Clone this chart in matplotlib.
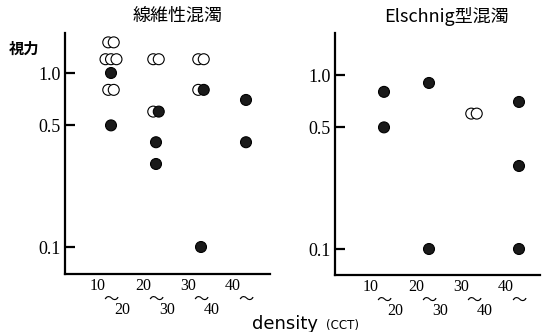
import matplotlib
matplotlib.use("Agg")
import matplotlib.pyplot as plt
import numpy as np

# ---- data ----
categories = ["10", "20", "30", "40"]
categories_end = ["20", "30", "40", ""]
yticks = [1.0, 0.5, 0.1]
ytick_labels = ["1.0", "0.5", "0.1"]

titles = ["線維性混濁", "Elschnig型混濁"]

# left panel: 線維性混濁
left_open_cat = [0, 0, 0, 0, 0, 0, 0, 1, 1, 1, 2, 2, 2]
left_open_val = [1.5, 1.5, 1.2, 1.2, 1.2, 0.8, 0.8, 1.2, 1.2, 0.6, 1.2, 1.2, 0.8]
left_filled_cat = [0, 0, 1, 1, 1, 2, 2, 3, 3]
left_filled_val = [1.0, 0.5, 0.6, 0.4, 0.3, 0.8, 0.1, 0.7, 0.4]

# right panel: Elschnig型混濁
right_open_cat = [2, 2]
right_open_val = [0.6, 0.6]
right_filled_cat = [0, 0, 1, 1, 3, 3, 3]
right_filled_val = [0.8, 0.5, 0.9, 0.1, 0.7, 0.3, 0.1]

W, H = 543, 332
fig = plt.figure(figsize=(W / 100, H / 100), dpi=100)

SERIF = "Liberation Serif"
CJK = ["Noto Sans CJK JP", "DejaVu Sans"]

PX_PER_CAT = 45.0
STEP_PX = 5.5


def make_points(open_cat, open_val, filled_cat, filled_val):
    groups = {}
    for c, v in zip(open_cat, open_val):
        groups.setdefault((c, v), []).append("open")
    for c, v in zip(filled_cat, filled_val):
        groups.setdefault((c, v), []).append("filled")
    xs, ys, fcs = [], [], []
    for (c, v), kinds in groups.items():
        n = len(kinds)
        for i, k in enumerate(kinds):
            off = (i - (n - 1) / 2) * STEP_PX / PX_PER_CAT
            xs.append(c + off)
            ys.append(v)
            fcs.append("white" if k == "open" else "#1a1a1a")
    return xs, ys, fcs


def setup(rect_px, one_px, cat0_px, title, title_x, pts):
    x0, y_top, x1, y_bot = rect_px
    ax = fig.add_axes([x0 / W, 1 - y_bot / H, (x1 - x0) / W, (y_bot - y_top) / H])
    ppd = 174.0
    ax.set_yscale("log")
    ax.set_ylim(10 ** (-(y_bot - one_px) / ppd), 10 ** ((one_px - y_top) / ppd))
    xl0 = -(cat0_px - x0) / PX_PER_CAT
    ax.set_xlim(xl0, xl0 + (x1 - x0) / PX_PER_CAT)
    for s in ["top", "right"]:
        ax.spines[s].set_visible(False)
    for s in ["left", "bottom"]:
        ax.spines[s].set_linewidth(1.6)
    ax.set_yticks(yticks)
    ax.set_yticklabels(ytick_labels, fontfamily=SERIF, fontsize=13)
    ax.yaxis.set_minor_locator(matplotlib.ticker.NullLocator())
    ax.tick_params(axis="y", direction="in", length=7.5, width=1.6, pad=3)
    ax.set_xticks([])
    xs, ys, fcs = pts
    ax.scatter(xs, ys, s=62, facecolors=fcs, edgecolors="black",
               linewidths=0.8, zorder=3, clip_on=False)
    xt = ax.get_xaxis_transform()
    for i, (a, b) in enumerate(zip(categories, categories_end)):
        ax.annotate(a, xy=(i, 0), xycoords=xt, xytext=(-13, -12),
                    textcoords="offset pixels", ha="center", va="center",
                    fontfamily=SERIF, fontsize=11.5)
        ax.annotate("〜", xy=(i, 0), xycoords=xt, xytext=(0, -25),
                    textcoords="offset pixels", ha="center", va="center",
                    fontfamily=CJK, fontsize=11)
        if b:
            ax.annotate(b, xy=(i, 0), xycoords=xt, xytext=(11, -36),
                        textcoords="offset pixels", ha="center", va="center",
                        fontfamily=SERIF, fontsize=11.5)
    fig.text(title_x / W, 1 - 16 / H, title, ha="center", va="center",
             fontfamily=CJK, fontsize=13)
    return ax


setup((65, 33, 270, 274), 73, 111, titles[0], 178,
      make_points(left_open_cat, left_open_val, left_filled_cat, left_filled_val))
setup((335, 33, 540, 275), 75, 384, titles[1], 446,
      make_points(right_open_cat, right_open_val, right_filled_cat, right_filled_val))

fig.text(24 / W, 1 - 49 / H, "視力", ha="center", va="center",
         fontfamily=CJK, fontsize=11, fontweight="bold")
fig.text(252 / W, 1 - 329 / H, "density", ha="left", va="baseline",
         fontfamily="DejaVu Sans", fontsize=13)
fig.text(326 / W, 1 - 329 / H, "(CCT)", ha="left", va="baseline",
         fontfamily="DejaVu Sans", fontsize=8.5)

fig.savefig("out.png", dpi=100)
